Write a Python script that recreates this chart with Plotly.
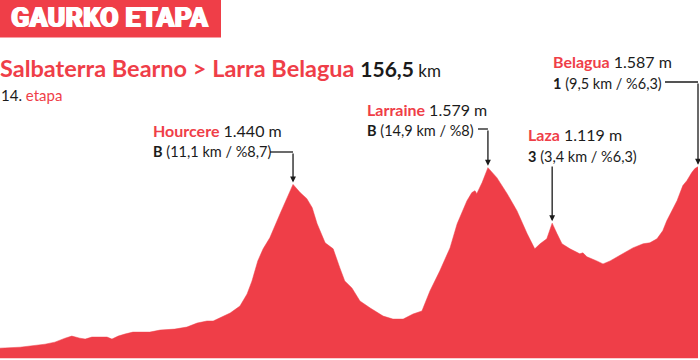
import plotly.graph_objects as go

# ---- profile data (km, metres) ----
km = [0, 4.5, 10.1, 12.3, 14.6, 16.1, 17.9, 19.1, 20.6, 22.4, 24.0, 25.1, 26.5, 28.0,
      29.8, 33.6, 35.9, 39.2, 41.9, 44.2, 46.4, 47.8, 49.8, 51.6, 53.8, 55.4, 56.5,
      57.8, 59.0, 60.5, 62.8, 64.3, 65.7, 67.3, 68.8, 70.0, 71.1, 72.9, 74.7, 76.2,
      77.3, 78.9, 80.7, 83.0, 85.9, 88.1, 90.4, 92.6, 94.6, 96.4, 98.6, 100.9, 102.5,
      104.7, 105.8, 106.5, 106.9, 108.1, 108.7, 109.4, 111.4, 113.7, 115.9, 118.2,
      119.9, 121.1, 122.6, 123.8, 124.9, 126.0, 127.8, 130.0, 130.7, 131.6, 133.8,
      135.2, 136.8, 139.7, 141.9, 144.2, 145.7, 147.3, 148.6, 149.5, 150.9, 151.8,
      153.1, 154.0, 155.1, 155.8, 156.5]
elev = [83, 91, 116, 133, 166, 183, 166, 158, 175, 175, 175, 158, 183, 200,
        216, 216, 233, 241, 258, 291, 308, 308, 341, 374, 432, 532, 640,
        806, 906, 998, 1197, 1322, 1440, 1372, 1322, 1247, 1114, 956, 906, 748,
        640, 582, 474, 416, 349, 324, 324, 366, 391, 557, 723, 914, 1114,
        1305, 1372, 1388, 1363, 1455, 1513, 1579, 1496, 1363, 1222, 1031,
        906, 948, 989, 1119, 1031, 948, 906, 865, 873, 840, 806,
        781, 806, 865, 914, 948, 956, 989, 1056, 1139, 1247, 1305,
        1430, 1471, 1538, 1571, 1587]

# ---- climbs ----
climb_names = ["Hourcere", "Larraine", "Laza", "Belagua"]
climb_alt = ["1.440 m", "1.579 m", "1.119 m", "1.587 m"]
climb_cat = ["B", "B", "3", "1"]
climb_detail = ["(11,1 km / %8,7)", "(14,9 km / %8)", "(3,4 km / %6,3)", "(9,5 km / %6,3)"]
climb_km = [65.7, 109.4, 123.8, 156.5]
climb_elev = [1440, 1579, 1119, 1587]

# text label positions (pixels) and connector geometry
label_px = [(151, 130, 151), (365, 109, 130), (526, 134, 156), (551, 61, 83)]
connector_start_px = [270, 478, None, 665]
connector_y_px = [152, 129, 165, 82]

title = "GAURKO ETAPA"
route = "Salbaterra Bearno > Larra Belagua"
distance = "156,5"
stage_no = "14."
stage_word = "etapa"

RED = "#EF3E48"
INK = "#1b1b1b"
FONT = "Lato"

W, H = 700, 360
PLOT_W = 698
Y_MIN, Y_MAX = -15, 2968


def px_x(p):
    return p / PLOT_W


def px_y(p):
    return 1 - p / H


def elev_to_px(e):
    return H - (e - Y_MIN) / (Y_MAX - Y_MIN) * H


fig = go.Figure()
fig.add_trace(go.Scatter(x=km, y=elev, mode="lines", fill="tozeroy",
                         line=dict(color=RED, width=0.5), fillcolor=RED,
                         hoverinfo="skip"))

shapes = []
annotations = []

# title banner
shapes.append(dict(type="rect", xref="paper", yref="paper", x0=0, x1=px_x(221),
                   y0=px_y(37.5), y1=1, fillcolor=RED, line=dict(width=0), layer="above"))
annotations.append(dict(xref="paper", yref="paper", x=px_x(9), y=px_y(17.5),
                        xanchor="left", yanchor="middle", showarrow=False,
                        text=title,
                        font=dict(family="Roboto", size=27, color="white", weight=900,
                                  shadow="0.8px 0 0 white, -0.8px 0 0 white")))

# route line
annotations.append(dict(xref="paper", yref="paper", x=px_x(-2), y=px_y(68),
                        xanchor="left", yanchor="middle", showarrow=False,
                        text=(f"<b><span style='color:{RED}'>{route}</span> "
                              f"<span style='font-size:21px'>{distance}</span></b>"
                              f"<span style='font-size:17px'> km</span>"),
                        font=dict(family=FONT, size=23.5, color=INK)))
annotations.append(dict(xref="paper", yref="paper", x=px_x(-1), y=px_y(95),
                        xanchor="left", yanchor="middle", showarrow=False,
                        text=f"{stage_no} <span style='color:{RED}'>{stage_word}</span>",
                        font=dict(family=FONT, size=15, color=INK)))

for i in range(len(climb_names)):
    lx, y1, y2 = label_px[i]
    annotations.append(dict(xref="paper", yref="paper", x=px_x(lx), y=px_y(y1),
                            xanchor="left", yanchor="middle", showarrow=False,
                            text=f"<b><span style='color:{RED}'>{climb_names[i]}</span></b> {climb_alt[i]}",
                            font=dict(family=FONT, size=16, color=INK)))
    annotations.append(dict(xref="paper", yref="paper", x=px_x(lx), y=px_y(y2),
                            xanchor="left", yanchor="middle", showarrow=False,
                            text=f"<b>{climb_cat[i]}</b> {climb_detail[i]}",
                            font=dict(family=FONT, size=14.5, color=INK)))
    peak_px = elev_to_px(climb_elev[i])
    annotations.append(dict(x=climb_km[i], y=climb_elev[i], xref="x", yref="y",
                            ax=0, ay=connector_y_px[i] - peak_px, text="",
                            showarrow=True, arrowhead=2, arrowsize=0.9, arrowwidth=1.3,
                            arrowcolor=INK, standoff=2))
    if connector_start_px[i] is not None:
        peak_x_px = climb_km[i] / 156.5 * PLOT_W
        shapes.append(dict(type="line", xref="paper", yref="paper",
                           x0=px_x(connector_start_px[i]), x1=px_x(peak_x_px),
                           y0=px_y(connector_y_px[i]), y1=px_y(connector_y_px[i]),
                           line=dict(color=INK, width=1.3)))

fig.update_layout(
    width=W, height=H,
    margin=dict(l=0, r=W - PLOT_W, t=0, b=0),
    paper_bgcolor="white", plot_bgcolor="white",
    showlegend=False,
    xaxis=dict(range=[0, 156.5], visible=False, fixedrange=True),
    yaxis=dict(range=[Y_MIN, Y_MAX], visible=False, fixedrange=True),
    shapes=shapes, annotations=annotations,
)

fig.write_html("out.html", config={"displayModeBar": False, "staticPlot": True},
               post_script="document.body.style.margin='0';")
